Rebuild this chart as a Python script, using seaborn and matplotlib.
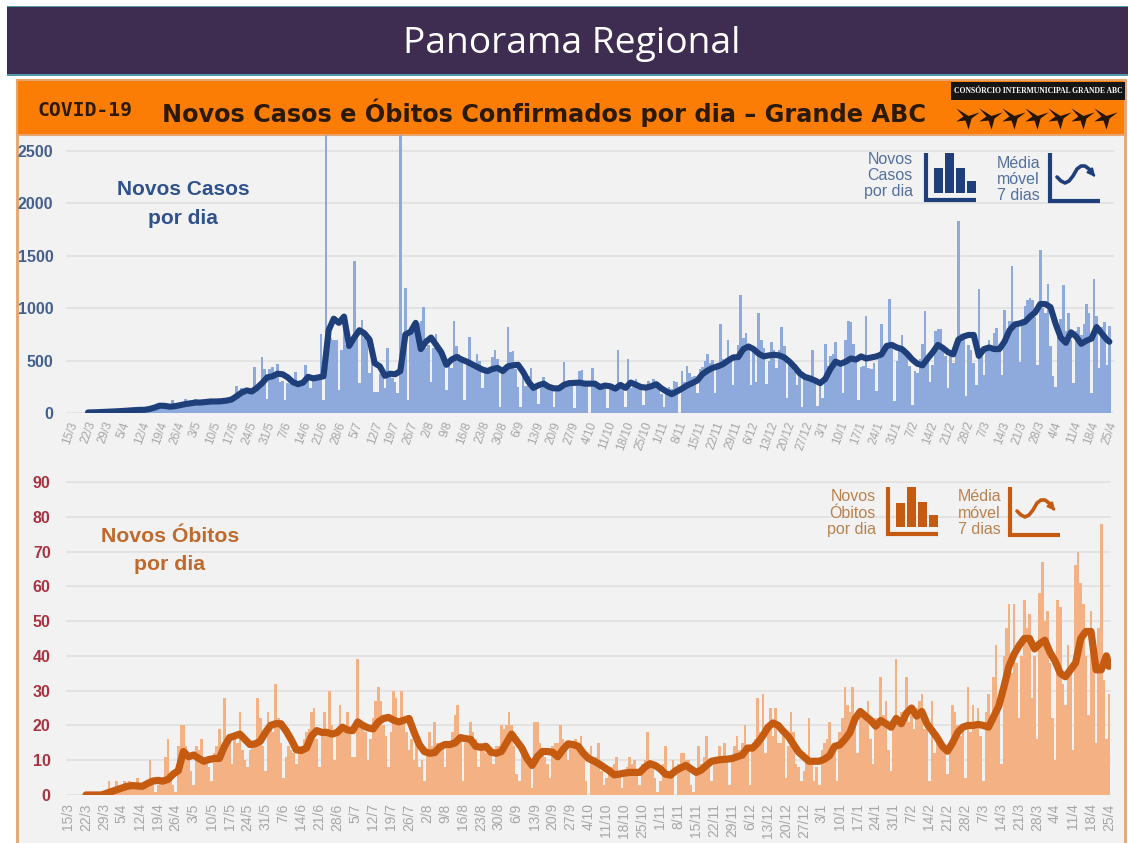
import matplotlib
matplotlib.use("Agg")
import matplotlib.pyplot as plt
from matplotlib.patches import Rectangle
import seaborn as sns

# dados: novos casos por dia, de 15/3 a 25/4 (uma linha por semana)
casos = [
    0, 0, 0, 0, 0, 0, 0,
    2, 3, 4, 5, 6, 6, 8,
    8, 10, 10, 12, 14, 16, 18,
    20, 22, 28, 30, 32, 35, 30,
    28, 32, 38, 45, 55, 62, 60,
    65, 70, 60, 55, 65, 124, 70,
    60, 75, 95, 130, 85, 90, 125,
    135, 90, 95, 110, 115, 100, 105,
    100, 115, 120, 110, 120, 125, 115,
    120, 150, 260, 170, 235, 215, 185,
    200, 210, 440, 250, 230, 530, 420,
    130, 420, 440, 370, 470, 300, 310,
    120, 290, 280, 270, 390, 300, 290,
    310, 460, 350, 240, 360, 340, 350,
    750, 125, 2900, 760, 720, 700, 700,
    220, 600, 880, 650, 620, 640, 1450,
    760, 290, 890, 720, 700, 380, 600,
    205, 205, 370, 360, 240, 620, 350,
    330, 300, 190, 2800, 750, 1190, 125,
    760, 800, 820, 860, 880, 1010, 620,
    650, 300, 620, 750, 640, 600, 540,
    220, 500, 430, 880, 640, 560, 490,
    125, 480, 730, 480, 440, 560, 500,
    240, 430, 400, 430, 530, 600, 520,
    60, 400, 420, 820, 580, 590, 420,
    250, 60, 360, 260, 350, 430, 280,
    260, 90, 240, 340, 240, 230, 220,
    60, 260, 270, 250, 490, 300, 280,
    270, 50, 290, 400, 410, 300, 260,
    0, 430, 250, 270, 240, 260, 280,
    50, 280, 250, 270, 600, 260, 270,
    60, 520, 240, 250, 320, 250, 260,
    80, 260, 310, 280, 320, 300, 290,
    180, 60, 190, 250, 230, 310, 300,
    0, 400, 300, 450, 380, 340, 350,
    190, 420, 440, 500, 560, 480, 510,
    190, 480, 850, 520, 500, 700, 500,
    270, 520, 650, 1130, 720, 760, 650,
    270, 620, 300, 950, 700, 620, 280,
    500, 680, 600, 430, 600, 820, 640,
    140, 520, 500, 400, 270, 420, 60,
    330, 320, 310, 600, 330, 70, 300,
    140, 660, 450, 540, 560, 680, 500,
    500, 190, 700, 880, 870, 660, 500,
    127, 440, 450, 930, 430, 420, 480,
    207, 520, 850, 640, 620, 1090, 620,
    110, 500, 600, 740, 600, 530, 450,
    80, 400, 380, 520, 660, 970, 520,
    300, 460, 780, 800, 800, 620, 540,
    240, 540, 480, 620, 1830, 750, 720,
    160, 650, 600, 480, 270, 1180, 620,
    365, 600, 700, 620, 760, 810, 640,
    365, 980, 780, 880, 1400, 870, 840,
    490, 900, 1020, 1080, 1100, 1080, 920,
    460, 1560, 1000, 950, 1235, 640, 350,
    250, 820, 900, 1220, 780, 950, 700,
    285, 780, 820, 740, 850, 1040, 950,
    190, 1280, 930, 430, 820, 870, 460,
    830,
]

# novos obitos por dia, mesmo periodo
obitos = [
    0, 0, 0, 0, 0, 0, 0,
    0, 0, 0, 0, 0, 0, 0,
    0, 1, 4, 1, 2, 4, 1,
    3, 4, 2, 4, 3, 2, 5,
    3, 2, 3, 4, 10, 4, 1,
    3, 5, 4, 11, 16, 6, 3,
    1, 14, 20, 20, 14, 10, 7,
    3, 14, 13, 16, 10, 9, 8,
    4, 12, 14, 19, 12, 28, 14,
    15, 9, 16, 15, 24, 13, 10,
    8, 13, 14, 15, 28, 22, 14,
    7, 24, 20, 18, 32, 22, 15,
    5, 11, 14, 13, 12, 9, 14,
    14, 16, 18, 19, 24, 25, 16,
    8, 18, 24, 19, 30, 20, 10,
    18, 26, 19, 18, 24, 18, 11,
    11, 39, 20, 19, 18, 10, 16,
    22, 27, 31, 27, 20, 17, 8,
    18, 30, 28, 22, 30, 22, 18,
    13, 16, 10, 15, 8, 10, 4,
    12, 18, 14, 21, 15, 15, 14,
    8, 14, 14, 18, 23, 26, 16,
    4, 15, 17, 21, 18, 16, 8,
    15, 14, 12, 14, 12, 9, 14,
    14, 20, 19, 20, 24, 20, 14,
    6, 4, 14, 12, 10, 9, 2,
    21, 21, 15, 12, 11, 9, 5,
    14, 15, 15, 20, 16, 15, 10,
    15, 14, 16, 15, 17, 13, 4,
    0, 14, 9, 11, 15, 7, 3,
    5, 6, 8, 9, 11, 7, 2,
    7, 8, 11, 9, 10, 7, 3,
    9, 10, 18, 10, 9, 5, 1,
    4, 9, 14, 7, 6, 10, 0,
    9, 12, 12, 10, 10, 3, 1,
    7, 14, 9, 11, 17, 9, 4,
    9, 10, 14, 11, 15, 10, 3,
    11, 14, 17, 13, 15, 20, 13,
    3, 13, 16, 28, 18, 29, 12,
    20, 25, 17, 25, 15, 15, 17,
    5, 14, 24, 18, 9, 8, 4,
    7, 10, 22, 9, 4, 8, 3,
    13, 15, 16, 21, 14, 13, 4,
    18, 22, 31, 26, 24, 31, 22,
    12, 24, 23, 22, 27, 16, 9,
    22, 21, 34, 23, 27, 13, 7,
    20, 39, 20, 24, 22, 34, 21,
    23, 19, 25, 27, 29, 19, 20,
    4, 27, 12, 18, 16, 14, 12,
    6, 14, 26, 24, 20, 17, 19,
    5, 31, 18, 26, 20, 25, 17,
    4, 24, 29, 22, 34, 43, 26,
    9, 40, 48, 55, 35, 55, 38,
    22, 40, 56, 48, 52, 28, 40,
    16, 58, 67, 50, 53, 38, 22,
    10, 56, 54, 32, 26, 43, 35,
    13, 66, 70, 61, 55, 40, 23,
    53, 40, 15, 48, 78, 33, 16,
    29,
]

media_casos = [
    5, 6, 8, 10, 12, 14, 17,
    20, 24, 27, 30, 30, 38, 52,
    70, 68, 60, 65, 75, 85, 92,
    100, 100, 105, 110, 110, 112, 118,
    128, 160, 195, 215, 205, 240, 285,
    340, 350, 375, 370, 340, 295, 275,
    290, 345, 330, 340, 350, 790, 900,
    860, 920, 640, 720, 790, 760, 700,
    475, 445, 355, 375, 370, 400, 750,
    775, 860, 610, 680, 720, 650, 580,
    460, 510, 535, 510, 490, 465, 440,
    415, 400, 420, 430, 400, 445, 455,
    460, 390, 300, 240, 265, 280, 250,
    235, 235, 270, 285, 288, 290, 280,
    280, 280, 248, 262, 255, 232, 268,
    240, 290, 270, 248, 242, 255, 275,
    235, 205, 180, 205, 232, 262, 285,
    310, 370, 405, 430, 445, 465, 500,
    530, 534, 610, 635, 610, 565, 540,
    550, 555, 550, 530, 490, 440, 380,
    345, 330, 310, 285, 325, 420, 490,
    470, 490, 520, 510, 540, 520, 530,
    540, 560, 640, 650, 625, 610, 565,
    510, 470, 455, 520, 580, 650, 620,
    580, 560, 700, 730, 745, 745, 545,
    610, 625, 610, 610, 680, 790, 845,
    855, 870, 920, 960, 1040, 1040, 1010,
    850, 720, 670, 770, 730, 660, 690,
    710, 820, 760, 700, 680,
]

media_obitos = [
    0, 0, 0, 0, 0.5, 1, 1.5,
    2, 2.5, 2.7, 2.6, 2.5, 3.3, 4,
    4.2, 4, 4.5, 6, 7, 12.5, 11,
    11.5, 10.5, 9.7, 10.2, 10.5, 10.5, 14,
    16.5, 17, 17.5, 16, 14.5, 14.7, 15.5,
    18, 20, 20.5, 20.5, 18.5, 16, 13,
    12.8, 13.5, 17, 18.5, 18, 18, 17.5,
    18, 19.5, 18.7, 18.5, 21, 20, 19.3,
    19, 21, 22, 22.3, 21.5, 21, 21.5,
    22, 18, 14.5, 12.5, 12, 12.2, 13.8,
    14.5, 14.5, 15, 16.5, 16.2, 16, 14,
    13.7, 14, 12.3, 12, 12.5, 15, 17.5,
    15.5, 13.5, 10.5, 8.5, 11, 12.5, 12.5,
    12.3, 11, 13, 14.7, 14.5, 14, 12,
    10.5, 9.8, 9, 8, 7, 5.8, 6,
    6.3, 6.5, 6.5, 6.5, 8, 9, 8.5,
    7.5, 6, 5.7, 7, 7.8, 8.5, 7.5,
    6.5, 7.2, 8.5, 9.7, 10, 10.2, 10.3,
    10.5, 11, 11.5, 13.5, 13.5, 15, 17,
    19.5, 20.7, 20, 18.3, 16.8, 14.5, 12.3,
    11, 9.7, 9.7, 9.7, 10.3, 11.3, 14,
    14.4, 16, 18, 22, 24, 22.7, 21.5,
    19.8, 21.4, 20.5, 19.5, 22, 20.5, 23.5,
    25, 22.7, 24, 20.5, 18.5, 16.5, 14,
    12.6, 15, 18, 19.5, 20, 20, 20.3,
    20, 19.5, 22.5, 25.5, 31, 37, 40.5,
    43, 45, 45, 42, 43.5, 44.5, 41,
    38.5, 35, 34, 36, 38, 45, 47,
    47, 36, 36, 40, 37,
]

semanas = [
    "15/3", "22/3", "29/3", "5/4", "12/4", "19/4", "26/4", "3/5", "10/5", "17/5",
    "24/5", "31/5", "7/6", "14/6", "21/6", "28/6", "5/7", "12/7", "19/7", "26/7",
    "2/8", "9/8", "16/8", "23/8", "30/8", "6/9", "13/9", "20/9", "27/9", "4/10",
    "11/10", "18/10", "25/10", "1/11", "8/11", "15/11", "22/11", "29/11", "6/12",
    "13/12", "20/12", "27/12", "3/1", "10/1", "17/1", "24/1", "31/1", "7/2", "14/2",
    "21/2", "28/2", "7/3", "14/3", "21/3", "28/3", "4/4", "11/4", "18/4", "25/4",
]

dias = list(range(len(casos)))
dias_media = list(range(7, 406, 2)) + [406]
posicoes = list(range(0, 407, 7))

L, A = 1128, 843
ROXO = "#3e2d50"
LARANJA = "#fb7d05"
BORDA = "#e5a56c"
FUNDO = "#f2f2f2"
AZUL_BARRA = "#8ea9db"
AZUL_LINHA = "#1f3f7a"
AZUL_TEXTO = "#2f528f"
LAR_BARRA = "#f4b183"
LAR_LINHA = "#c55a11"

sns.set_theme(style="whitegrid", rc={"grid.color": "#e3e3e3", "grid.linewidth": 1.4})
plt.rcParams["font.family"] = ["Liberation Sans", "DejaVu Sans"]

fig = plt.figure(figsize=(L / 100, A / 100), dpi=100, facecolor="white")


def eixo_px(x0, y0, x1, y1, **kw):
    # eixo posicionado em pixels da imagem
    return fig.add_axes([x0 / L, 1 - y1 / A, (x1 - x0) / L, (y1 - y0) / A], **kw)


# faixas de fundo
fundo = fig.add_axes([0, 0, 1, 1], zorder=0)
fundo.set_xlim(0, L)
fundo.set_ylim(A, 0)
fundo.axis("off")
fundo.add_patch(Rectangle((7, 6), L - 7, 69, fc=ROXO, ec="none"))
fundo.add_patch(Rectangle((7, 5.5), L - 7, 1.5, fc="#4f9aa8", ec="none"))
fundo.add_patch(Rectangle((7, 74), L - 7, 2, fc="#4f9aa8", ec="none"))
fundo.add_patch(Rectangle((17, 80), 1108, 770, fc=FUNDO, ec=BORDA, lw=2))
fundo.add_patch(Rectangle((17, 80), 1108, 55, fc=LARANJA, ec=BORDA, lw=1.5))
fundo.add_patch(Rectangle((951, 82), 174, 18, fc="#151515", ec="none"))


def painel(ax, valores, media, cor_barra, cor_linha, lw):
    sns.barplot(x=dias, y=valores, color=cor_barra, saturation=1, width=1,
                native_scale=True, linewidth=0, ax=ax)
    sns.lineplot(x=dias_media, y=media, color=cor_linha, linewidth=lw, ax=ax,
                 solid_capstyle="round", solid_joinstyle="round")
    ax.set_facecolor("none")
    ax.set_axisbelow(True)
    ax.grid(axis="x", visible=False)
    sns.despine(ax=ax, left=True, bottom=True)
    ax.set_xticks(posicoes)


# 1. novos casos
ax1 = eixo_px(66, 135, 1114, 413, zorder=1)
painel(ax1, casos, media_casos, AZUL_BARRA, AZUL_LINHA, 4.4)
ax1.set_xlim(-1.6, 407.8)
ax1.set_ylim(0, 2653)
ax1.set_yticks([0, 500, 1000, 1500, 2000, 2500])
ax1.set_xticklabels(semanas, rotation=70, fontsize=8.5, color="#a6a6a6")
ax1.tick_params(axis="x", length=0, pad=5)
ax1.tick_params(axis="y", length=0, pad=9, labelcolor="#44608f")
for t in ax1.get_yticklabels():
    t.set(weight="bold", fontsize=11.5)

# 2. novos obitos
ax2 = eixo_px(66, 475, 1111, 795, zorder=1)
painel(ax2, obitos, media_obitos, LAR_BARRA, LAR_LINHA, 5.2)
ax2.set_xlim(-0.8, 406.8)
ax2.set_ylim(0, 92)
ax2.set_yticks(range(0, 100, 10))
ax2.set_xticklabels(semanas, rotation=90, fontsize=10, color="#a6a6a6")
ax2.tick_params(axis="x", length=0, pad=6)
ax2.tick_params(axis="y", length=0, pad=11, labelcolor="#a93340")
for t in ax2.get_yticklabels():
    t.set(weight="bold", fontsize=11.5)

# textos e icones por cima
top = fig.add_axes([0, 0, 1, 1], zorder=2)
top.set_xlim(0, L)
top.set_ylim(A, 0)
top.axis("off")
top.patch.set_alpha(0)

top.text(572, 44, "Panorama Regional", color="white", fontsize=26.8, family="Open Sans",
         ha="center", va="center")
top.text(85, 110, "COVID-19", color="#2b1a08", fontsize=14.2, weight="bold",
         family="DejaVu Sans Mono", ha="center", va="center")
top.text(544, 113, "Novos Casos e Óbitos Confirmados por dia – Grande ABC", color="#2b1a08",
         fontsize=17.3, weight="bold", family="DejaVu Sans", ha="center", va="center")
top.text(1038, 91, "CONSÓRCIO INTERMUNICIPAL GRANDE ABC", color="white", fontsize=5.5,
         weight="bold", family="Liberation Serif", ha="center", va="center")

# andorinhas do logo
ave = [(-1, 1), (0.2, 0.25), (1.3, 0.6), (0.5, 0), (0.2, -1.1), (-0.1, -0.2), (-1, -0.3), (-0.3, 0.2)]
top.scatter(range(966, 1120, 23), [118] * 7, marker=ave, s=360, color="#241505", linewidths=0)

top.text(183, 204, "Novos Casos\npor dia", color=AZUL_TEXTO, fontsize=15, weight="bold",
         ha="center", va="center", linespacing=1.65)
top.text(170, 551, "Novos Óbitos\npor dia", color="#bf6a2c", fontsize=15.3, weight="bold",
         ha="center", va="center", linespacing=1.6)


def legenda(x_txt, x_bar, x_lin, topo, y_txt1, y_txt2, x_txt2, txt1, txt2, cor, cor_txt, barras, base, curva):
    # rotulos e icones da legenda no canto superior direito de cada painel
    top.text(x_txt, y_txt1, txt1, color=cor_txt, fontsize=11.5, ha="right", va="center", linespacing=1.12)
    top.text(x_txt2, y_txt2, txt2, color=cor_txt, fontsize=11.5, ha="right", va="center", linespacing=1.12)
    top.plot([x_bar, x_bar, x_bar + 50], [topo, base, base], color=cor, lw=3,
             solid_joinstyle="miter", solid_capstyle="butt")
    for i, h in enumerate(barras):
        top.add_patch(Rectangle((x_bar + 8 + 11 * i, base - 7 - h), 8.5, h, fc=cor, ec="none"))
    top.plot([x_lin, x_lin, x_lin + 50], [topo, base + 1, base + 1], color=cor, lw=3,
             solid_joinstyle="miter", solid_capstyle="butt")
    cx, cy = zip(*[(x_lin + a, topo + b) for a, b in curva])
    top.plot(cx, cy, color=cor, lw=2.6)
    top.annotate("", xy=(x_lin + 47, topo + 26), xytext=(cx[-1], cy[-1]),
                 arrowprops=dict(arrowstyle="-|>", color=cor, lw=1.8, mutation_scale=10))


onda = [(7, 24), (11, 28), (15, 30), (19, 28), (23, 23), (27, 16), (31, 13), (35, 13), (39, 16), (42, 20)]
legenda(913, 926, 1050, 153, 175.5, 179.5, 1040, "Novos\nCasos\npor dia", "Média\nmóvel\n7 dias", AZUL_LINHA, "#54709f",
        [25, 40, 25, 12], 200, onda)
legenda(876, 888, 1010, 487, 513, 513, 1001, "Novos\nÓbitos\npor dia", "Média\nmóvel\n7 dias", LAR_LINHA, "#b9824f",
        [24, 40, 25, 12], 534, onda)

fig.savefig("out.png", dpi=100)
